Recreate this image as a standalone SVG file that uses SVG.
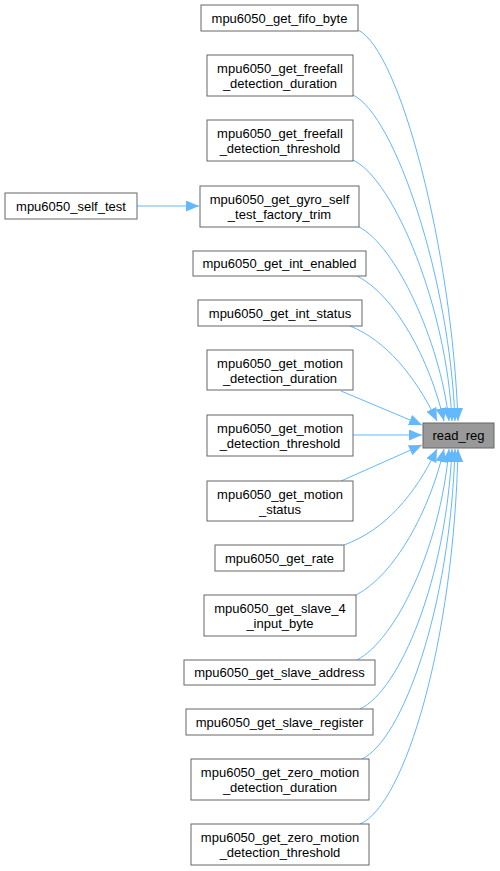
<svg xmlns="http://www.w3.org/2000/svg" width="500" height="871" viewBox="0 0 500 871">
<style>
.n rect{fill:#fff;stroke:#666;stroke-width:1}
.n text{font-family:"Liberation Sans",Arial,Helvetica,sans-serif;font-size:13px;fill:#000;text-anchor:middle}
#read_reg rect{fill:#999}
.e path{fill:none;stroke:#63b8ff;stroke-width:1}
</style>
<defs>
<marker id="ah" markerUnits="userSpaceOnUse" markerWidth="14" markerHeight="12" refX="13" refY="5.5" orient="auto">
<path d="M0,0 L13,5.5 L0,11 z" fill="#63b8ff"/>
</marker>
</defs>
<rect width="500" height="871" fill="#fff"/>
<g class="e" marker-end="url(#ah)">
<path d="M137,206 L199,206" marker-end="url(#ah)"/>
<path d="M358,30 C400,50 452,250 458,421" marker-end="url(#ah)"/>
<path d="M353,95 C395,115 450,280 455,421" marker-end="url(#ah)"/>
<path d="M353,160 C395,180 447,310 452,421" marker-end="url(#ah)"/>
<path d="M359,227 C395,245 440,340 449,421" marker-end="url(#ah)"/>
<path d="M357,276 C395,295 430,360 444,421" marker-end="url(#ah)"/>
<path d="M350,326 C385,340 415,375 437,421" marker-end="url(#ah)"/>
<path d="M341,391 L422,425" marker-end="url(#ah)"/>
<path d="M353,435 L422,435" marker-end="url(#ah)"/>
<path d="M341,481 L422,445" marker-end="url(#ah)"/>
<path d="M344,545 C385,530 415,495 437,449" marker-end="url(#ah)"/>
<path d="M356,595 C395,575 430,510 444,449" marker-end="url(#ah)"/>
<path d="M357,660 C395,640 440,550 449,449" marker-end="url(#ah)"/>
<path d="M360,709 C400,690 446,580 452,449" marker-end="url(#ah)"/>
<path d="M362,759 C402,740 450,610 455,449" marker-end="url(#ah)"/>
<path d="M360,824 C405,805 454,640 458,449" marker-end="url(#ah)"/>
</g>
<g id="read_reg" class="n"><rect x="423" y="423" width="71" height="25"/><text x="458.5" y="440">read_reg</text></g>
<g id="self_test" class="n"><rect x="5" y="193" width="132" height="26"/><text x="71" y="211">mpu6050_self_test</text></g>
<g id="fifo_byte" class="n"><rect x="201" y="5" width="157" height="26"/><text x="279.5" y="23">mpu6050_get_fifo_byte</text></g>
<g id="ff_dur" class="n"><rect x="207" y="55" width="146" height="41"/><text x="280" y="73">mpu6050_get_freefall</text><text x="280" y="88">_detection_duration</text></g>
<g id="ff_thr" class="n"><rect x="207" y="120" width="146" height="41"/><text x="280" y="138">mpu6050_get_freefall</text><text x="280" y="153">_detection_threshold</text></g>
<g id="gyro" class="n"><rect x="200" y="186" width="159" height="41"/><text x="279.5" y="204">mpu6050_get_gyro_self</text><text x="279.5" y="219">_test_factory_trim</text></g>
<g id="int_en" class="n"><rect x="193" y="251" width="173" height="25"/><text x="279.5" y="268">mpu6050_get_int_enabled</text></g>
<g id="int_st" class="n"><rect x="198" y="300" width="164" height="26"/><text x="280" y="318">mpu6050_get_int_status</text></g>
<g id="mot_dur" class="n"><rect x="207" y="350" width="146" height="40"/><text x="280" y="368">mpu6050_get_motion</text><text x="280" y="383">_detection_duration</text></g>
<g id="mot_thr" class="n"><rect x="207" y="415" width="146" height="41"/><text x="280" y="433">mpu6050_get_motion</text><text x="280" y="448">_detection_threshold</text></g>
<g id="mot_st" class="n"><rect x="207" y="481" width="146" height="40"/><text x="280" y="499">mpu6050_get_motion</text><text x="280" y="514">_status</text></g>
<g id="rate" class="n"><rect x="215" y="545" width="129" height="26"/><text x="279.5" y="563">mpu6050_get_rate</text></g>
<g id="slv4" class="n"><rect x="204" y="595" width="152" height="41"/><text x="280" y="613">mpu6050_get_slave_4</text><text x="280" y="628">_input_byte</text></g>
<g id="slv_addr" class="n"><rect x="184" y="660" width="191" height="25"/><text x="279.5" y="677">mpu6050_get_slave_address</text></g>
<g id="slv_reg" class="n"><rect x="186" y="709" width="187" height="26"/><text x="279.5" y="727">mpu6050_get_slave_register</text></g>
<g id="zm_dur" class="n"><rect x="191" y="759" width="178" height="41"/><text x="280" y="777">mpu6050_get_zero_motion</text><text x="280" y="792">_detection_duration</text></g>
<g id="zm_thr" class="n"><rect x="191" y="824" width="178" height="41"/><text x="280" y="842">mpu6050_get_zero_motion</text><text x="280" y="857">_detection_threshold</text></g>
</svg>
